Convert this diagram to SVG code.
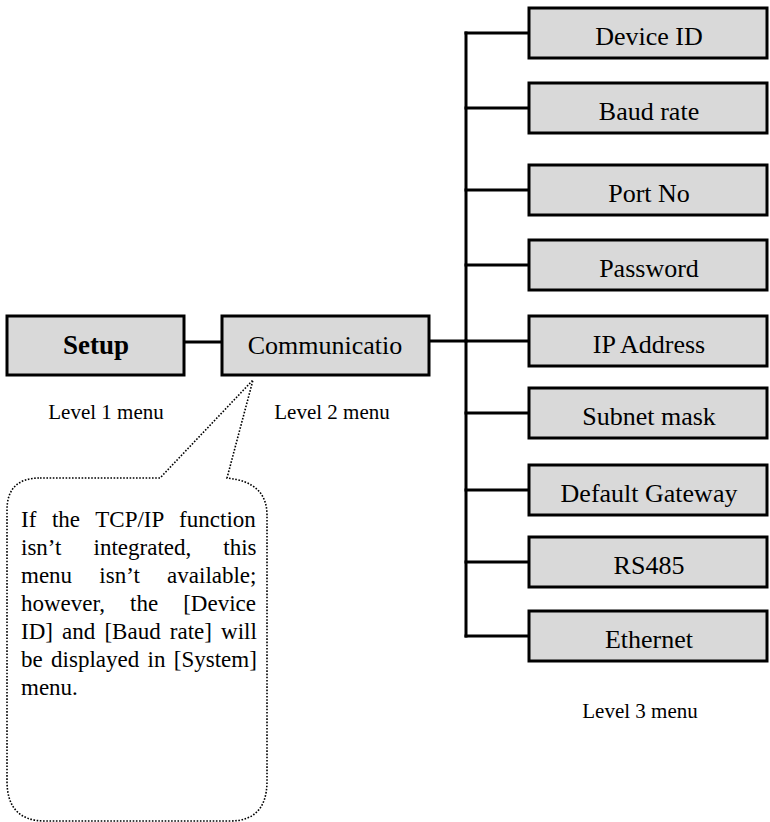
<svg xmlns="http://www.w3.org/2000/svg" width="770" height="822" viewBox="0 0 770 822">
<style>
  .box { fill: #d9d9d9; stroke: #000; stroke-width: 3; }
  .lbl { font-family: "Liberation Serif", "Times New Roman", serif; font-size: 26px; text-anchor: middle; fill: #000; }
  .bold { font-weight: bold; font-size: 27px; }
  .lvl { font-family: "Liberation Serif", "Times New Roman", serif; font-size: 21px; text-anchor: middle; fill: #000; }
  .note { font-family: "Liberation Serif", "Times New Roman", serif; font-size: 23px; fill: #000; }
  .conn { stroke: #000; stroke-width: 3; fill: none; stroke-linecap: square; }
  .callout { fill: none; stroke: #000; stroke-width: 1.6; stroke-dasharray: 1.6 1.6; }
</style>
<rect width="770" height="822" fill="#fff"/>
<g id="connectors">
  <line class="conn" x1="185" y1="342" x2="221" y2="342"/>
  <line class="conn" x1="430" y1="341" x2="466" y2="341"/>
  <line class="conn" x1="466" y1="33" x2="466" y2="636"/>
  <line class="conn" x1="466" y1="33" x2="528" y2="33"/>
  <line class="conn" x1="466" y1="108" x2="528" y2="108"/>
  <line class="conn" x1="466" y1="190" x2="528" y2="190"/>
  <line class="conn" x1="466" y1="265" x2="528" y2="265"/>
  <line class="conn" x1="466" y1="341" x2="528" y2="341"/>
  <line class="conn" x1="466" y1="413" x2="528" y2="413"/>
  <line class="conn" x1="466" y1="490" x2="528" y2="490"/>
  <line class="conn" x1="466" y1="562" x2="528" y2="562"/>
  <line class="conn" x1="466" y1="636" x2="528" y2="636"/>
</g>
<g id="setup">
  <rect class="box" x="7" y="316" width="177" height="59"/>
  <text class="lbl bold" x="96" y="354">Setup</text>
</g>
<g id="communication">
  <rect class="box" x="222" y="316" width="207" height="59"/>
  <text class="lbl" x="325" y="354">Communicatio</text>
</g>
<g id="device-id">
  <rect class="box" x="529" y="8" width="238" height="50"/>
  <text class="lbl" x="649" y="45">Device ID</text>
</g>
<g id="baud-rate">
  <rect class="box" x="529" y="83" width="238" height="50"/>
  <text class="lbl" x="649" y="120">Baud rate</text>
</g>
<g id="port-no">
  <rect class="box" x="529" y="165" width="238" height="50"/>
  <text class="lbl" x="649" y="202">Port No</text>
</g>
<g id="password">
  <rect class="box" x="529" y="240" width="238" height="50"/>
  <text class="lbl" x="649" y="277">Password</text>
</g>
<g id="ip-address">
  <rect class="box" x="529" y="316" width="238" height="50"/>
  <text class="lbl" x="649" y="353">IP Address</text>
</g>
<g id="subnet-mask">
  <rect class="box" x="529" y="388" width="238" height="50"/>
  <text class="lbl" x="649" y="425">Subnet mask</text>
</g>
<g id="default-gateway">
  <rect class="box" x="529" y="465" width="238" height="50"/>
  <text class="lbl" x="649" y="502">Default Gateway</text>
</g>
<g id="rs485">
  <rect class="box" x="529" y="537" width="238" height="50"/>
  <text class="lbl" x="649" y="574">RS485</text>
</g>
<g id="ethernet">
  <rect class="box" x="529" y="611" width="238" height="50"/>
  <text class="lbl" x="649" y="648">Ethernet</text>
</g>
<g id="level-labels">
  <text class="lvl" x="106" y="419">Level 1 menu</text>
  <text class="lvl" x="332" y="419">Level 2 menu</text>
  <text class="lvl" x="640" y="718">Level 3 menu</text>
</g>
<g id="note">
  <path class="callout" d="M 40 478 H 160 L 253 380 L 227 478 Q 267 482 267 515 V 781 Q 267 821 230 821 H 45 Q 7 821 7 781 V 510 Q 7 478 40 478 Z"/>
  <text class="note" x="21" y="527" style="word-spacing:9.9px">If the TCP/IP function</text>
  <text class="note" x="21" y="555" style="word-spacing:26.3px">isn’t integrated, this</text>
  <text class="note" x="21" y="583" style="word-spacing:21.5px">menu isn’t available;</text>
  <text class="note" x="21" y="611" style="word-spacing:19.3px">however, the [Device</text>
  <text class="note" x="21" y="639" style="word-spacing:3.4px">ID] and [Baud rate] will</text>
  <text class="note" x="21" y="667" style="word-spacing:2.6px">be displayed in [System]</text>
  <text class="note" x="21" y="695">menu.</text>
</g>
</svg>
